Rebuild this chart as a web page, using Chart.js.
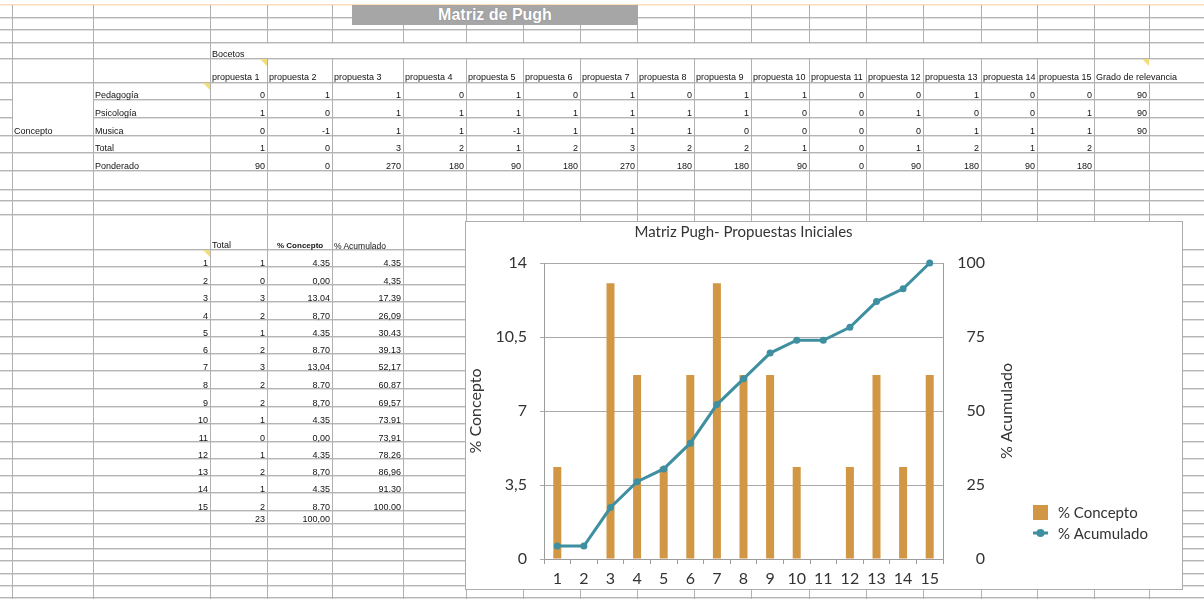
<!DOCTYPE html>
<html>
<head>
<meta charset="utf-8">
<script src="https://cdn.jsdelivr.net/npm/chart.js@4.4.1/dist/chart.umd.min.js"></script>
<style>
html,body{margin:0;padding:0;background:#fff;}
#sheet{position:relative;width:1204px;height:599px;overflow:hidden;background:#fff;}
#grid{position:absolute;left:0;top:0;}
.t{position:absolute;font-family:'Liberation Sans',Arial,sans-serif;white-space:nowrap;color:#111;}
#ttl{position:absolute;left:352px;top:5px;width:286px;height:20px;background:#a6a6a6;color:#fff;font:bold 16px 'Liberation Sans',Arial,sans-serif;line-height:20px;text-align:center;text-shadow:0 0 1px rgba(90,90,90,0.6);}
#chartbox{position:absolute;left:465px;top:221px;width:718px;height:369px;box-sizing:border-box;border:1px solid #acacac;background:#fff;}
#chart{position:absolute;left:0;top:0;}
.tri{position:absolute;width:0;height:0;border-top:7px solid #f1de78;border-left:7px solid transparent;}
</style>
</head>
<body>
<div id="sheet">
  <canvas id="grid" width="1204" height="599"></canvas>
  <div id="ttl">Matriz de Pugh</div>
  <div id="chartbox"><canvas id="chart" width="716" height="367"></canvas></div>
</div>
<script>
// ---------- chart data ----------
const categories = ['1','2','3','4','5','6','7','8','9','10','11','12','13','14','15'];
const pctConcepto = [4.35, 0, 13.04, 8.70, 4.35, 8.70, 13.04, 8.70, 8.70, 4.35, 0, 4.35, 8.70, 4.35, 8.70];
const pctAcumulado = [4.35, 4.35, 17.39, 26.09, 30.43, 39.13, 52.17, 60.87, 69.57, 73.91, 73.91, 78.26, 86.96, 91.30, 100];
const leftTicks = [0, 3.5, 7, 10.5, 14];
const rightTicks = [0, 25, 50, 75, 100];
const chartTitle = 'Matriz Pugh- Propuestas Iniciales';
const seriesNames = ['% Concepto', '% Acumulado'];

// ---------- spreadsheet data ----------
const proposals = ['propuesta 1','propuesta 2','propuesta 3','propuesta 4','propuesta 5','propuesta 6','propuesta 7','propuesta 8','propuesta 9','propuesta 10','propuesta 11','propuesta 12','propuesta 13','propuesta 14','propuesta 15'];
const rowLabels = ['Pedagogía','Psicología','Musica','Total','Ponderado'];
const pedagogia = [0,1,1,0,1,0,1,0,1,1,0,0,1,0,0];
const psicologia = [1,0,1,1,1,1,1,1,1,0,0,1,0,0,1];
const musica = [0,-1,1,1,-1,1,1,1,0,0,0,0,1,1,1];
const totals = [1,0,3,2,1,2,3,2,2,1,0,1,2,1,2];
const ponderado = [90,0,270,180,90,180,270,180,180,90,0,90,180,90,180];
const relevancia = [90,90,90];
const tblIndex = ['1','2','3','4','5','6','7','8','9','10','11','12','13','14','15'];
const tblTotal = ['1','0','3','2','1','2','3','2','2','1','0','1','2','1','2'];
const tblConcepto = ['4.35','0,00','13.04','8,70','4.35','8.70','13,04','8.70','8,70','4.35','0,00','4.35','8,70','4.35','8.70'];
const tblAcumulado = ['4.35','4,35','17.39','26,09','30.43','39.13','52,17','60.87','69,57','73.91','73,91','78.26','86,96','91.30','100.00'];
const tblSum = ['23','100,00'];

// ---------- spreadsheet layout ----------
const colX = [12, 93, 210, 267, 332, 403, 466, 523, 580, 637, 694, 751, 809, 866, 923, 981, 1037, 1094, 1149];
const rowY = [17, 29, 42, 58, 82, 99, 117, 135, 152, 170, 189, 200, 214, 249, 266, 284, 301, 319, 336, 353, 370, 388, 406, 423, 441, 458, 475, 492, 510, 523, 536, 548, 560, 573, 585, 597];

const g = document.getElementById('grid').getContext('2d');
g.fillStyle = '#fbdcbc';
g.fillRect(0, 4, 1204, 1.5);
rowY.forEach(y => {
  const segs = (y === 99 || y === 117) ? [[0,12],[93,1204]] : [[0,1204]];
  segs.forEach(([a,b]) => {
    g.fillStyle = '#b5b5b5'; g.fillRect(a, y, b-a, 1);
    g.fillStyle = '#e0e0e0'; g.fillRect(a, y+1, b-a, 1);
  });
});
colX.forEach(x => {
  let gaps = [];
  if (x > 210 && x < 1094) gaps.push([42, 58]);
  if (x === 1149) gaps.push([58, 82]);
  let y0 = 5;
  gaps.forEach(([a,b]) => { g.fillStyle = '#b0b0b0'; g.fillRect(x, y0, 1, a - y0 + 1); y0 = b; });
  g.fillStyle = '#b0b0b0'; g.fillRect(x, y0, 1, 599 - y0);
});

const sheet = document.getElementById('sheet');
function txt(s, x, baseline, align, size, bold) {
  size = size || 9;
  const d = document.createElement('div');
  d.className = 't';
  d.textContent = s;
  d.style.fontSize = size + 'px';
  d.style.lineHeight = size + 'px';
  if (bold) d.style.fontWeight = 'bold';
  d.style.top = (baseline - 0.8465 * size) + 'px';
  if (align === 'right') d.style.right = (1204 - x) + 'px'; else d.style.left = x + 'px';
  sheet.insertBefore(d, document.getElementById('chartbox'));
}
function tri(right, top) {
  const d = document.createElement('div');
  d.className = 'tri';
  d.style.left = (right - 7) + 'px';
  d.style.top = (top + 1) + 'px';
  sheet.insertBefore(d, document.getElementById('chartbox'));
}

// upper table
txt('Bocetos', 212, 58);
proposals.forEach((p, i) => txt(p, colX[i+2] + 2, 81));
txt('Grado de relevancia', 1096, 81);
const upperRows = [pedagogia, psicologia, musica, totals, ponderado];
const upperBottoms = [99, 117, 135, 152, 170];
rowLabels.forEach((l, r) => txt(l, 95, upperBottoms[r]));
upperRows.forEach((arr, r) => arr.forEach((v, i) => txt(String(v), colX[i+3] - 2, upperBottoms[r], 'right')));
relevancia.forEach((v, r) => txt(String(v), 1147, upperBottoms[r], 'right'));
txt('Concepto', 14, 135);
tri(267, 58); tri(210, 82); tri(1149, 58); tri(210, 249);

// lower table
txt('Total', 212, 249);
txt('% Concepto', 277, 249, 'left', 8, true);
txt('% Acumulado', 334, 249, 'left', 8.5);
const lowerBottoms = [266, 284, 301, 319, 336, 353, 370, 388, 406, 423, 441, 458, 475, 492, 510];
tblIndex.forEach((v, k) => {
  const b = lowerBottoms[k] + 1;
  txt(v, 208, b, 'right');
  txt(tblTotal[k], 265, b, 'right');
  txt(tblConcepto[k], 330, b, 'right');
  txt(tblAcumulado[k], 401, b, 'right');
});
txt(tblSum[0], 265, 523, 'right');
txt(tblSum[1], 330, 523, 'right');

// ---------- chart ----------
const orange = 'rgb(209,151,68)';
const teal = 'rgb(62,143,160)';
const axisCol = '#9c9c9c';
const txtCol = '#333333';
const f16 = {family: 'Lato', size: 16};

const overlay = {
  id: 'overlay',
  afterDraw(chart) {
    const {ctx, chartArea: a} = chart;
    ctx.save();
    ctx.fillStyle = txtCol;
    ctx.textBaseline = 'middle';
    ctx.textAlign = 'center';
    ctx.font = '15px Lato';
    ctx.fillText(chartTitle, (a.left + a.right) / 2, 10);
    ctx.save();
    ctx.translate(541, (a.top + a.bottom) / 2);
    ctx.rotate(-Math.PI / 2);
    ctx.font = '16px Lato';
    ctx.fillText(seriesNames[1], 0, 0);
    ctx.restore();
    ctx.textAlign = 'left';
    ctx.font = '15px Lato';
    ctx.fillStyle = orange;
    ctx.fillRect(567, 283, 15, 15);
    ctx.fillStyle = txtCol;
    ctx.fillText(seriesNames[0], 592, 291);
    ctx.strokeStyle = teal; ctx.lineWidth = 3;
    ctx.beginPath(); ctx.moveTo(567, 311); ctx.lineTo(582, 311); ctx.stroke();
    ctx.fillStyle = teal;
    ctx.beginPath(); ctx.arc(574.5, 311, 4, 0, Math.PI * 2); ctx.fill();
    ctx.fillStyle = txtCol;
    ctx.fillText(seriesNames[1], 592, 312);
    ctx.restore();
  }
};

new Chart(document.getElementById('chart'), {
  type: 'bar',
  data: {
    labels: categories,
    datasets: [
      {type: 'line', label: seriesNames[1], data: pctAcumulado, yAxisID: 'y2', borderColor: teal, backgroundColor: teal,
       borderWidth: 3, pointRadius: 3.5, pointHoverRadius: 3.5, pointBackgroundColor: teal, pointBorderWidth: 0, tension: 0, order: 0, clip: false},
      {type: 'bar', label: seriesNames[0], data: pctConcepto, yAxisID: 'y', backgroundColor: orange, barThickness: 8, inflateAmount: 0, order: 1}
    ]
  },
  options: {
    responsive: false,
    animation: false,
    devicePixelRatio: 1,
    layout: {padding: {top: 41, right: 197, bottom: 0, left: 0}},
    plugins: {legend: {display: false}, title: {display: false}, tooltip: {enabled: false}},
    scales: {
      x: {
        grid: {display: true, drawOnChartArea: false, drawTicks: true, tickLength: 5, color: axisCol},
        border: {color: axisCol},
        ticks: {font: f16, color: txtCol, padding: 5, maxRotation: 0, autoSkip: false},
        afterFit(s) { s.height = 30; }
      },
      y: {
        position: 'left', min: 0, max: 14,
        afterBuildTicks(s) { s.ticks = leftTicks.map(v => ({value: v})); },
        ticks: {callback: v => String(v).replace('.', ','), font: f16, color: txtCol, padding: 13},
        grid: {color: '#a9a9a9', tickLength: 4},
        border: {color: axisCol},
        title: {display: true, text: seriesNames[0], font: f16, color: txtCol, padding: {top: 0, bottom: 0}},
        afterFit(s) { s.width = 78; }
      },
      y2: {
        position: 'right', min: 0, max: 100,
        afterBuildTicks(s) { s.ticks = rightTicks.map(v => ({value: v})); },
        ticks: {crossAlign: 'far', padding: 14, font: f16, color: txtCol},
        grid: {display: false},
        border: {display: true, color: axisCol},
        afterFit(s) { s.width = 42; }
      }
    }
  },
  plugins: [overlay]
});
</script>
</body>
</html>
